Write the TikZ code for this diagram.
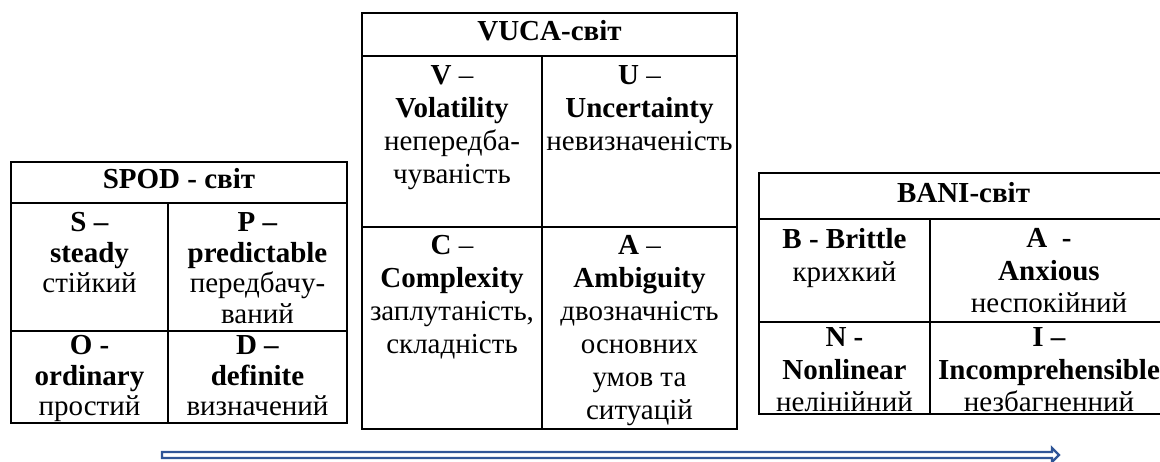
\documentclass[tikz,border=0pt]{standalone}
\usepackage{fontspec}
\setmainfont{Liberation Serif}
\usetikzlibrary{calc}
\definecolor{arrowblue}{HTML}{2F5597}
\begin{document}
\begin{tikzpicture}[x=1pt,y=-1pt,
  grid/.style={draw=black, line width=1.6pt},
  cell/.style={anchor=north, inner sep=0pt, align=center, font=\fontsize{29}{33}\selectfont},
  banicell/.style={anchor=north, inner sep=0pt, align=center, font=\fontsize{29}{32.5}\selectfont},
  spodcell/.style={anchor=north, inner sep=0pt, align=center, font=\fontsize{29}{30.5}\selectfont},
  hdr/.style={anchor=north, inner sep=0pt, font=\fontsize{29}{33}\selectfont\bfseries},
  bigarrow/.style={draw=arrowblue, line width=2.4pt, fill=white, line join=miter}]
\useasboundingbox (0,0) rectangle (1160,461);
\clip (0,0) rectangle (1160,461);

% SPOD table
\draw[grid] (11,162) rectangle (347,423);
\draw[grid] (11,203) -- (347,203);
\draw[grid] (11,331) -- (347,331);
\draw[grid] (168,203) -- (168,423);
\node[hdr] (spodH) at (179,168.5) {SPOD - світ};
\node[spodcell] (spodS) at (89.5,212.5) {\textbf{S –}\\\textbf{steady}\\стійкий};
\node[spodcell] (spodP) at (257.5,212.5) {\textbf{P –}\\\textbf{predictable}\\передбачу-\\ваний};
\node[spodcell] (spodO) at (89.5,335.5) {\textbf{O -}\\\textbf{ordinary}\\простий};
\node[spodcell] (spodD) at (257.5,335.5) {\textbf{D –}\\\textbf{definite}\\визначений};

% VUCA table
\draw[grid] (362,13) rectangle (737,429);
\draw[grid] (362,56) -- (737,56);
\draw[grid] (362,227) -- (737,227);
\draw[grid] (542,56) -- (542,429);
\node[hdr] (vucaH) at (549.5,20.5) {VUCA-світ};
\node[cell] (vucaV) at (452,65.5) {\textbf{V} –\\\textbf{Volatility}\\непередба-\\чуваність};
\node[cell] (vucaU) at (639.5,65.5) {\textbf{U} –\\\textbf{Uncertainty}\\невизначеність};
\node[cell] (vucaC) at (452,235.5) {\textbf{C} –\\\textbf{Complexity}\\заплутаність,\\складність};
\node[cell] (vucaA) at (639.5,235.5) {\textbf{A} –\\\textbf{Ambiguity}\\двозначність\\основних\\умов та\\ситуацій};

% BANI table
\draw[grid] (759,173) rectangle (1168,414);
\draw[grid] (759,219) -- (1168,219);
\draw[grid] (759,322) -- (1168,322);
\draw[grid] (930,219) -- (930,414);
\node[hdr] (baniH) at (963.5,182.5) {BANI-світ};
\node[banicell] (baniB) at (844.5,228.5) {\textbf{B - Brittle}\\крихкий};
\node[banicell] (baniA) at (1049,228.5) {\textbf{A~~-}\\\textbf{Anxious}\\неспокійний};
\node[banicell] (baniN) at (844.5,327.5) {\textbf{N -}\\\textbf{Nonlinear}\\нелінійний};
\node[banicell] (baniI) at (1049,327.5) {\textbf{I –}\\\textbf{Incomprehensible}\\незбагненний};

% bottom arrow
\coordinate (aS) at (162,455);
\coordinate (aE) at (1059,455);
\draw[bigarrow] ($(aS)+(0,-3)$) -- ($(aE)+(-7,-3)$) -- ($(aE)+(-7,-7)$) -- (aE)
  -- ($(aE)+(-7,7)$) -- ($(aE)+(-7,3)$) -- ($(aS)+(0,3)$) -- cycle;
\end{tikzpicture}
\end{document}
